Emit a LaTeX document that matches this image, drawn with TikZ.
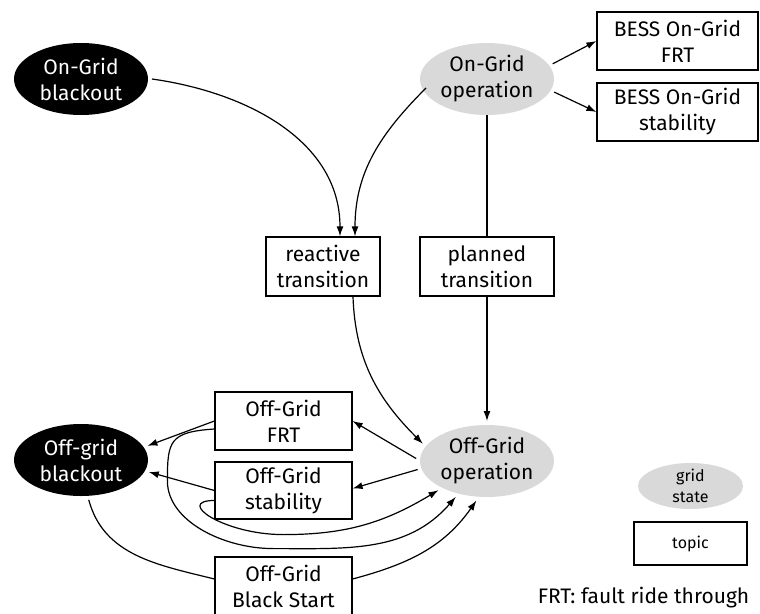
\documentclass[tikz,border=0pt]{standalone}
\usepackage{fontspec}
\setmainfont{Fira Sans}
\usepackage{tikz}
\usetikzlibrary{positioning,arrows.meta,calc,shapes.geometric}

\begin{document}
\begin{tikzpicture}[x=1pt, y=1pt, >={Latex[length=10pt,width=7pt]}, line width=1.2pt,
  font=\fontsize{21}{26}\selectfont,
  gridstate/.style={ellipse, fill=black!15, align=center, inner sep=0pt, outer sep=4pt, minimum width=134pt, minimum height=72pt},
  blackout/.style={gridstate, fill=black, text=white},
  topicbox/.style={draw, align=center, inner sep=2pt, minimum width=137pt, minimum height=58pt},
  legend/.style={font=\fontsize{16}{21}\selectfont}]
\useasboundingbox (0,0) rectangle (760,-613);
% grid states
\node[blackout] (ongb) at (81,-79) {On-Grid\\blackout};
\node[gridstate] (ongop) at (487,-79) {On-Grid\\operation};
\node[gridstate] (offop) at (487,-461) {Off-Grid\\operation};
\node[blackout] (offgb) at (81,-460) {Off-grid\\blackout};
% topics
\node[topicbox, minimum width=161pt] (bessfrt) at (677.5,-41) {BESS On-Grid\\FRT};
\node[topicbox, minimum width=161pt] (bessstab) at (677.5,-112) {BESS On-Grid\\stability};
\node[topicbox, minimum width=114pt, minimum height=59pt] (react) at (323,-266.5) {reactive\\transition};
\node[topicbox, minimum width=134pt, minimum height=59pt] (planned) at (487,-266.5) {planned\\transition};
\node[topicbox] (offfrt) at (283.5,-421) {Off-Grid\\FRT};
\node[topicbox, minimum height=57pt] (offstab) at (283.5,-490.5) {Off-Grid\\stability};
\node[topicbox] (blackstart) at (283.5,-586) {Off-Grid\\Black Start};
% legend
\node[gridstate, legend, inner sep=-4pt, outer sep=0pt, minimum width=105pt, minimum height=46pt] (legstate) at (690.5,-486) {grid\\state};
\node[topicbox, legend, minimum width=113pt, minimum height=43pt] (legtopic) at (690.5,-543.5) {topic};
\node (note) at (643.5,-598) {FRT: fault ride through};
% on-grid side
\draw[->] (ongop.13) -- (bessfrt.west);
\draw[->] (ongop.349) -- (bessstab.west);
\draw[->] (ongb.east) to[out=-8,in=90] ([xshift=17pt]react.north);
\draw[->] ($(ongop.west)+(10,-9)$) to[out=225,in=90] ([xshift=32pt]react.north);
\draw ([yshift=4pt]ongop.south) -- (planned.north);
\draw[->] (planned.south) -- (offop.north);
\draw[->] ([xshift=30pt]react.south) to[out=-88,in=135] (offop.165);
% off-grid side
\draw[->] (offop.178) -- (offfrt.east);
\draw[->] (offop.187) -- ([yshift=2pt]offstab.east);
\draw[->] (offfrt.west) -- (offgb.12);
\draw[->] (offstab.west) -- (offgb.350);
\draw[->] ([yshift=-10pt]offstab.west) .. controls +(-40,0) and +(-60,0) .. ($(offstab.south)+(0,-15)$)
  to[out=0,in=211] (offop.211);
\draw[->] ([yshift=-8pt]offfrt.west) .. controls +(-45,-3) and +(0,40) .. ($(offfrt.west)+(-47,-60)$)
  .. controls +(0,-40) and +(-50,0) .. ($(offstab.south)+(-10,-29)$)
  to[out=0,in=229] (offop.229);
\draw (offgb.281) to[out=-75,in=166] ([yshift=7pt]blackstart.west);
\draw[->] ([yshift=7pt]blackstart.east) to[out=15,in=235] (offop.255);
\end{tikzpicture}
\end{document}
